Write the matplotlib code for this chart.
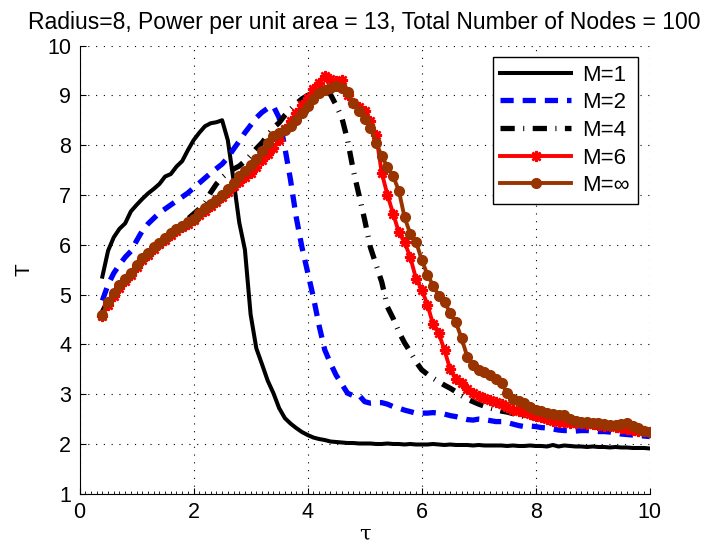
import numpy as np
import matplotlib
matplotlib.use("Agg")
import matplotlib.pyplot as plt

plt.rcParams['font.family'] = ['Liberation Sans', 'DejaVu Sans']

# tau axis, 0.4 .. 10.0 in steps of 0.1
tau = np.round(np.arange(4, 101) / 10.0, 1)

m1 = [5.36, 5.88, 6.15, 6.32, 6.43, 6.67, 6.80, 6.92, 7.03, 7.12,
      7.22, 7.37, 7.42, 7.57, 7.68, 7.90, 8.10, 8.25, 8.38, 8.44,
      8.46, 8.50, 8.10, 7.30, 6.45, 5.90, 4.60, 3.92, 3.60, 3.27,
      3.02, 2.72, 2.52, 2.41, 2.32, 2.24, 2.18, 2.13, 2.10, 2.08,
      2.05, 2.04, 2.03, 2.02, 2.02, 2.01, 2.01, 2.01, 2.00, 2.00,
      2.01, 2.00, 2.00, 1.99, 2.00, 1.99, 1.99, 1.99, 2.00, 1.99,
      1.98, 1.99, 1.98, 1.98, 1.98, 1.97, 1.98, 1.97, 1.97, 1.97,
      1.97, 1.96, 1.97, 1.96, 1.96, 1.97, 1.96, 1.96, 1.95, 1.98,
      1.95, 1.97, 1.96, 1.95, 1.95, 1.94, 1.95, 1.94, 1.94, 1.93,
      1.94, 1.93, 1.93, 1.92, 1.92, 1.92, 1.91]

m2 = [4.88, 5.20, 5.43, 5.60, 5.75, 5.87, 6.08, 6.28, 6.42, 6.53,
      6.64, 6.72, 6.80, 6.88, 6.96, 7.04, 7.14, 7.24, 7.34, 7.44,
      7.53, 7.62, 7.75, 7.92, 8.08, 8.25, 8.40, 8.55, 8.66, 8.74,
      8.78, 8.55, 7.95, 7.30, 6.55, 5.95, 5.45, 4.95, 4.38, 3.89,
      3.62, 3.38, 3.20, 3.02, 2.97, 2.98, 2.85, 2.82, 2.83, 2.83,
      2.80, 2.75, 2.72, 2.68, 2.65, 2.62, 2.62, 2.62, 2.63, 2.62,
      2.60, 2.57, 2.55, 2.52, 2.49, 2.48, 2.50, 2.49, 2.47, 2.45,
      2.45, 2.43, 2.40, 2.37, 2.35, 2.36, 2.35, 2.33, 2.32, 2.30,
      2.28, 2.27, 2.27, 2.26, 2.27, 2.27, 2.26, 2.25, 2.25, 2.24,
      2.22, 2.20, 2.19, 2.18, 2.17, 2.16, 2.15]

m4 = [4.65, 4.88, 5.05, 5.20, 5.33, 5.45, 5.60, 5.75, 5.86, 5.96,
      6.06, 6.15, 6.24, 6.33, 6.42, 6.52, 6.62, 6.72, 6.85, 7.05,
      7.22, 7.35, 7.45, 7.52, 7.58, 7.68, 7.80, 7.93, 8.05, 8.20,
      8.35, 8.45, 8.60, 8.72, 8.83, 8.93, 9.00, 9.05, 9.08, 9.10,
      9.02, 8.80, 8.55, 8.10, 7.50, 7.00, 6.50, 5.95, 5.60, 5.25,
      4.75, 4.52, 4.25, 4.03, 3.85, 3.65, 3.49, 3.40, 3.32, 3.25,
      3.18, 3.12, 3.05, 2.97, 2.90, 2.85, 2.80, 2.76, 2.72, 2.69,
      2.66, 2.64, 2.61, 2.58, 2.55, 2.53, 2.52, 2.50, 2.47, 2.45,
      2.48, 2.43, 2.40, 2.38, 2.37, 2.36, 2.35, 2.33, 2.32, 2.31,
      2.29, 2.28, 2.27, 2.26, 2.25, 2.24, 2.23]

m6 = [4.57, 4.80, 4.98, 5.14, 5.28, 5.40, 5.55, 5.70, 5.80, 5.92,
      6.01, 6.10, 6.20, 6.28, 6.35, 6.42, 6.50, 6.60, 6.68, 6.77,
      6.86, 6.95, 7.06, 7.17, 7.26, 7.36, 7.45, 7.57, 7.70, 7.82,
      7.95, 8.10, 8.32, 8.48, 8.65, 8.80, 8.95, 9.12, 9.25, 9.38,
      9.32, 9.28, 9.30, 9.00, 8.85, 8.76, 8.68, 8.48, 8.20, 7.44,
      7.00, 6.62, 6.25, 6.05, 5.75, 5.32, 5.10, 4.80, 4.40, 4.22,
      3.88, 3.50, 3.30, 3.22, 3.10, 3.02, 2.97, 2.92, 2.88, 2.84,
      2.80, 2.74, 2.68, 2.66, 2.64, 2.60, 2.57, 2.54, 2.50, 2.47,
      2.45, 2.44, 2.43, 2.42, 2.42, 2.41, 2.40, 2.39, 2.37, 2.36,
      2.34, 2.33, 2.31, 2.28, 2.27, 2.26, 2.25]

minf = [4.59, 4.86, 5.03, 5.19, 5.31, 5.43, 5.59, 5.74, 5.84, 5.95,
        6.04, 6.13, 6.24, 6.32, 6.38, 6.45, 6.52, 6.63, 6.73, 6.82,
        6.90, 7.00, 7.12, 7.25, 7.38, 7.48, 7.60, 7.72, 7.88, 8.05,
        8.18, 8.24, 8.30, 8.38, 8.50, 8.64, 8.78, 8.92, 9.04, 9.10,
        9.14, 9.18, 9.14, 9.06, 8.85, 8.68, 8.52, 8.35, 8.05, 7.78,
        7.56, 7.38, 7.08, 6.55, 6.22, 6.06, 5.70, 5.40, 5.18, 4.98,
        4.86, 4.62, 4.44, 4.12, 3.75, 3.58, 3.48, 3.44, 3.38, 3.30,
        3.22, 3.02, 2.90, 2.86, 2.82, 2.74, 2.69, 2.66, 2.62, 2.60,
        2.58, 2.58, 2.50, 2.46, 2.45, 2.44, 2.43, 2.42, 2.40, 2.38,
        2.38, 2.40, 2.42, 2.36, 2.33, 2.27, 2.25]

labels = ['M=1', 'M=2', 'M=4', 'M=6', 'M=\u221e']
brown = '#993300'

fig = plt.figure(figsize=(7.04, 5.46), dpi=100)
ax = fig.add_axes([0.113, 0.0956, 0.810, 0.821])

ax.plot(tau, m1, color='black', lw=2.9, label=labels[0])
ax.plot(tau, m2, color='blue', lw=3.8, linestyle=(0, (2.5, 1.7)), label=labels[1])
ax.plot(tau, m4, color='black', lw=3.8, linestyle=(0, (2.7, 1.6, 0.2, 1.6)), label=labels[2])
ax.plot(tau, m6, color='red', lw=2.8, marker=(8, 2, 0), ms=8, mew=1.8, label=labels[3])
ax.plot(tau, minf, color=brown, lw=2.8, marker='o', ms=7, mew=1, label=labels[4])

ax.set_xlim(0, 10)
ax.set_ylim(1, 10)
ax.set_xticks(range(0, 11, 2))
ax.set_yticks(range(1, 11))
ax.set_xticks(np.arange(0, 10.01, 0.1), minor=True)
ax.tick_params(axis='both', which='major', direction='in', length=4, width=0.8, labelsize=15.5,
               top=False, right=False, pad=6)
ax.tick_params(axis='x', which='minor', direction='in', length=2, width=0.6)
ax.spines['top'].set_visible(False)
ax.spines['right'].set_visible(False)
ax.grid(True, which='major', color='black', linestyle=(0, (1, 6)), lw=0.8)

ax.set_xlabel('\u03c4', fontsize=15, family=['DejaVu Serif'], labelpad=1)
ax.set_ylabel('T', fontsize=15, labelpad=10)
ax.set_title('Radius=8, Power per unit area = 13, Total Number of Nodes = 100', fontsize=16.5, pad=12)

leg = ax.legend(loc='upper right', bbox_to_anchor=(0.979, 0.975), borderaxespad=0,
                fontsize=16, numpoints=1, handlelength=3.2, fancybox=False,
                framealpha=1, edgecolor='black', borderpad=0.35, labelspacing=0.3,
                handletextpad=0.5)
leg.get_frame().set_linewidth(1.0)

fig.savefig('out.png', dpi=100)
